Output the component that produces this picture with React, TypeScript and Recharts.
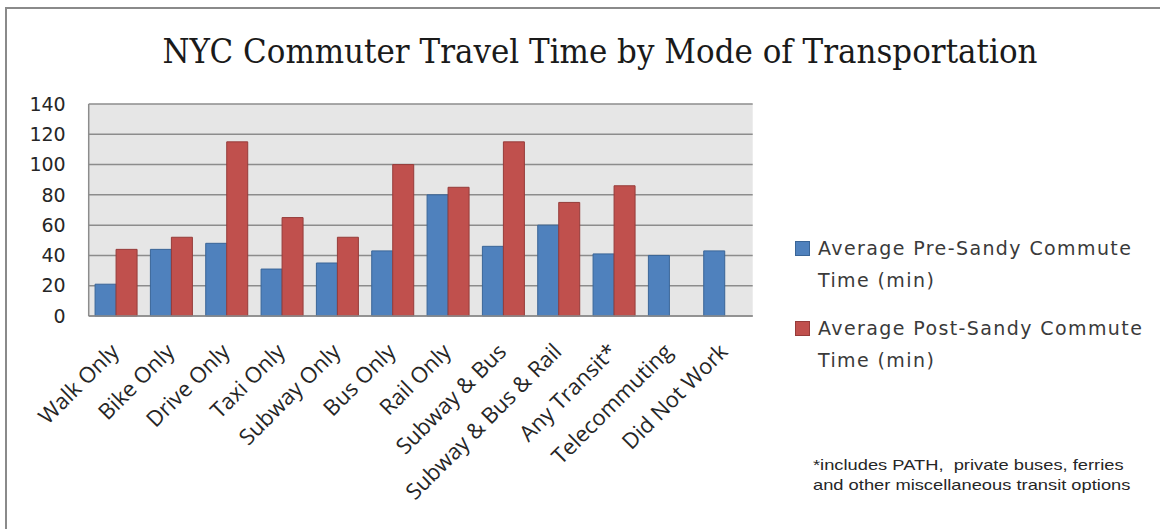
import React from 'react';
import { BarChart, Bar, XAxis, YAxis, CartesianGrid, Legend } from 'recharts';

const categories = [
  'Walk Only',
  'Bike Only',
  'Drive Only',
  'Taxi Only',
  'Subway Only',
  'Bus Only',
  'Rail Only',
  'Subway & Bus',
  'Subway & Bus & Rail',
  'Any Transit*',
  'Telecommuting',
  'Did Not Work',
];
const preSandy = [21, 44, 48, 31, 35, 43, 80, 46, 60, 41, 40, 43];
const postSandy: (number | null)[] = [44, 52, 115, 65, 52, 100, 85, 115, 75, 86, null, null];
const yTicks = [0, 20, 40, 60, 80, 100, 120, 140];
const seriesNames = ['Average Pre-Sandy Commute Time (min)', 'Average Post-Sandy Commute Time (min)'];
const title = 'NYC Commuter Travel Time by Mode of Transportation';
const footnoteLines = ['*includes PATH,  private buses, ferries', 'and other miscellaneous transit options'];

const fills = ['#4f81bd', '#c0504d'];
const strokes = ['#3a6597', '#963c3a'];

const data = categories.map((c, i) => ({ name: c, pre: preSandy[i], post: postSandy[i] }));

const XTick = (props: any) => {
  const { x, y, payload } = props;
  const ax = x + 4;
  const ay = y + 37;
  return (
    <text
      x={ax}
      y={ay}
      transform={`rotate(-45 ${ax} ${ay})`}
      textAnchor="end"
      fontFamily="'Open Sans', sans-serif"
      fontSize={22}
      fill="#262626"
    >
      {payload.value}
    </text>
  );
};

const renderLegend = () => (
  <div style={{ fontFamily: "'DejaVu Sans', sans-serif", fontSize: 19, color: '#3a3a3a', lineHeight: '32px' }}>
    {seriesNames.map((n, i) => (
      <div key={n} style={{ display: 'flex', alignItems: 'flex-start', marginBottom: 16 }}>
        <span
          style={{
            width: 13,
            height: 13,
            background: fills[i],
            border: `1px solid ${strokes[i]}`,
            marginTop: 9,
            marginRight: 8,
            flex: 'none',
          }}
        />
        <span style={{ width: 340, letterSpacing: 1.4 }}>{n}</span>
      </div>
    ))}
  </div>
);

export default function App() {
  return (
    <div style={{ position: 'absolute', left: 0, top: 0, width: 1160, height: 529, background: '#fff', overflow: 'hidden' }}>
      <div
        style={{
          position: 'absolute',
          left: 5,
          top: 7,
          width: 1170,
          height: 540,
          border: '2px solid #8a8a8a',
          boxSizing: 'border-box',
        }}
      />
      <svg style={{ position: 'absolute', left: 0, top: 0 }} width={1160} height={100}>
        <text
          x={600}
          y={63}
          textAnchor="middle"
          fontFamily="'DejaVu Serif', serif"
          fontSize={33}
          textLength={875}
          lengthAdjust="spacingAndGlyphs"
          fill="#1a1a1a"
        >
          {title}
        </text>
      </svg>
      <div style={{ position: 'absolute', left: 0, top: 0 }}>
        <BarChart
          width={1160}
          height={529}
          data={data}
          margin={{ top: 104, right: 407.3, bottom: 0, left: 28.7 }}
          barCategoryGap="11.5%"
          barGap={0}
        >
          <CartesianGrid vertical={false} fill="#e6e6e6" stroke="#8c8c8c" strokeWidth={1.5} />
          <XAxis
            dataKey="name"
            interval={0}
            height={213}
            tickLine={false}
            tickSize={0}
            tickMargin={0}
            axisLine={{ stroke: '#8c8c8c', strokeWidth: 1.5 }}
            tick={<XTick />}
          />
          <YAxis
            domain={[0, 140]}
            ticks={yTicks}
            width={60}
            tickLine={false}
            tickSize={0}
            tickMargin={23}
            axisLine={{ stroke: '#8c8c8c', strokeWidth: 1.5 }}
            tick={{ fontFamily: "'DejaVu Sans', sans-serif", fontSize: 19, fill: '#262626' }}
          />
          <Legend
            layout="vertical"
            align="center"
            verticalAlign="middle"
            wrapperStyle={{ position: 'absolute', left: 795, top: 232, width: 365 }}
            content={renderLegend}
          />
          <Bar dataKey="pre" name={seriesNames[0]} fill={fills[0]} stroke={strokes[0]} strokeWidth={1} isAnimationActive={false} />
          <Bar dataKey="post" name={seriesNames[1]} fill={fills[1]} stroke={strokes[1]} strokeWidth={1} isAnimationActive={false} />
        </BarChart>
      </div>
      <div
        style={{
          position: 'absolute',
          left: 813,
          top: 455,
          fontFamily: "'Liberation Sans', Arial, sans-serif",
          fontSize: 15,
          lineHeight: '20px',
          color: '#262626',
          whiteSpace: 'pre',
          transform: 'scaleX(1.22)',
          transformOrigin: 'left top',
        }}
      >
        {footnoteLines.join('\n')}
      </div>
    </div>
  );
}
